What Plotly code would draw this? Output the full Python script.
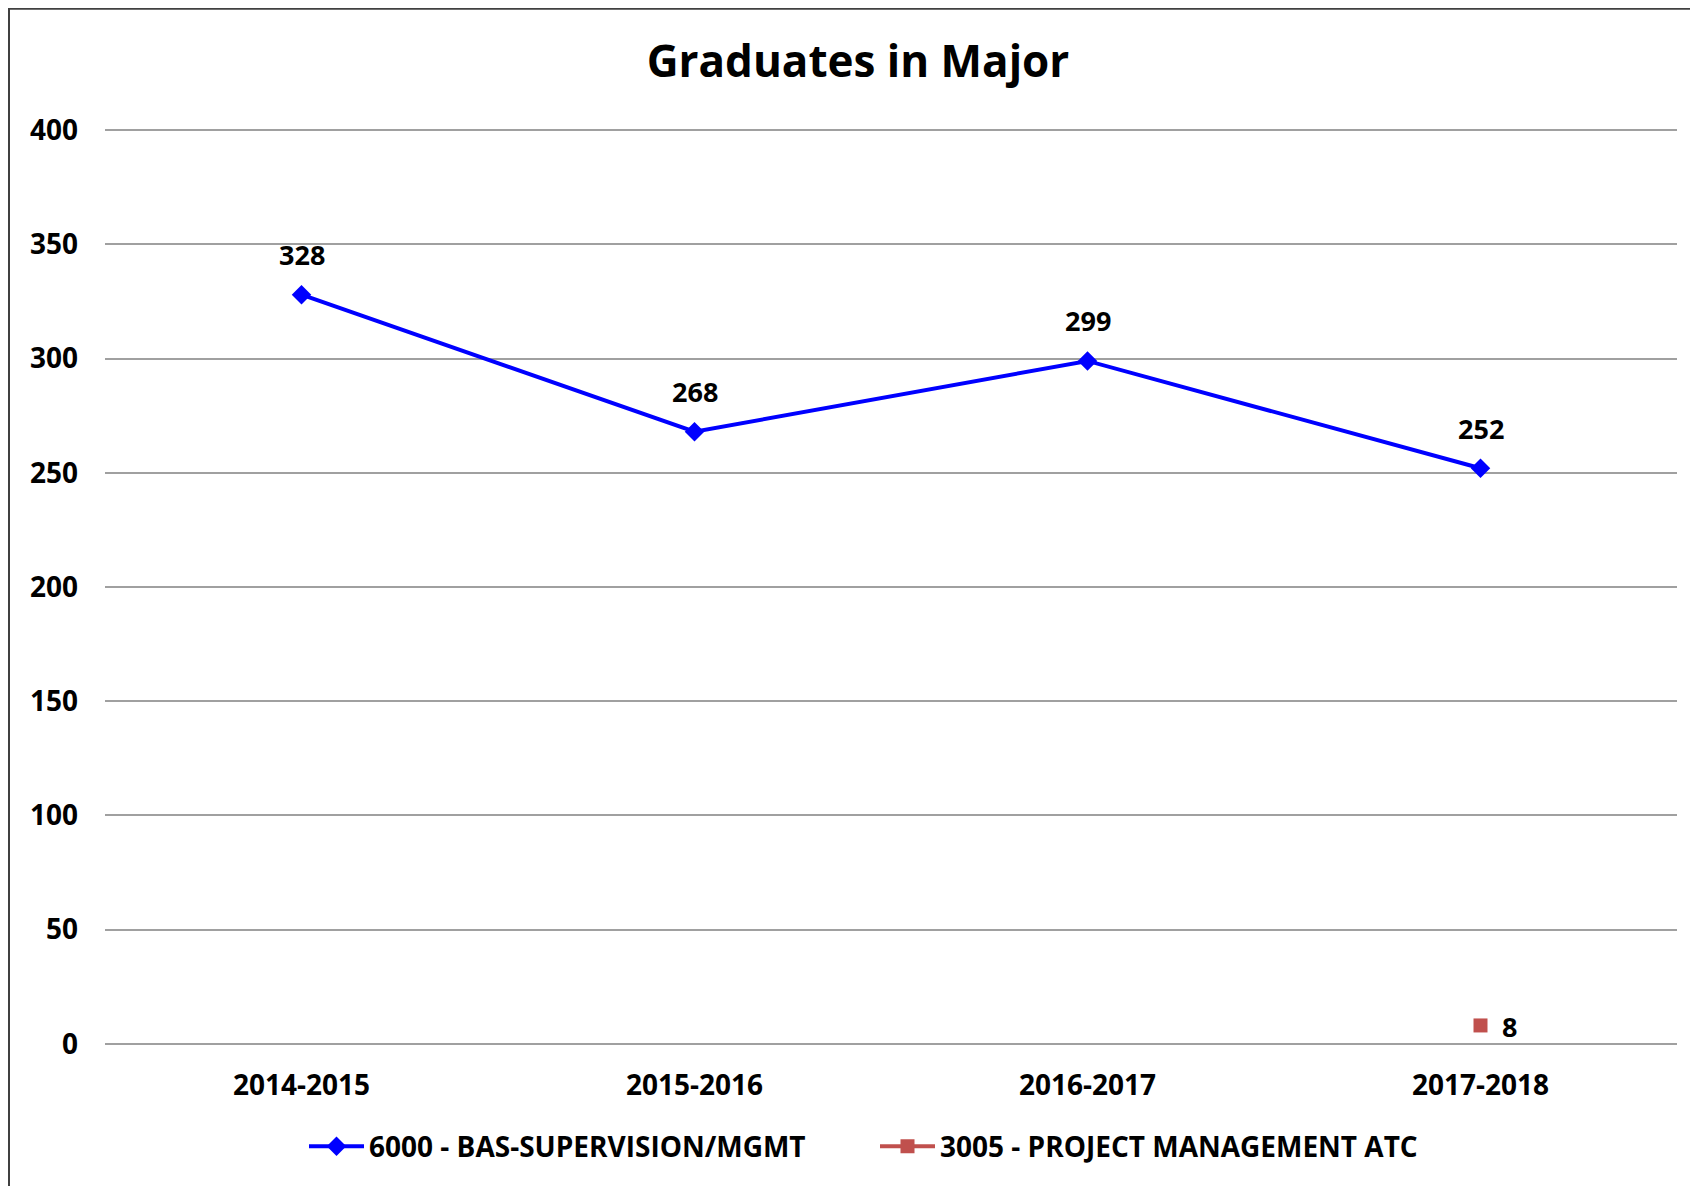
import plotly.graph_objects as go

categories = ["2014-2015", "2015-2016", "2016-2017", "2017-2018"]
bas_values = [328, 268, 299, 252]
pm_categories = ["2017-2018"]
pm_values = [8]
series_names = ["6000 - BAS-SUPERVISION/MGMT", "3005 - PROJECT MANAGEMENT ATC"]
y_ticks = [0, 50, 100, 150, 200, 250, 300, 350, 400]

FONT = "Open Sans"
# page body has an 8px margin, so figure coords = page coords - 8
W, H = 1690, 1178
PX = 914 / 400.0
L = 97
PW = 1572
T = 122 - PX
PH = 402 * PX
R = W - L - PW
B = H - T - PH

fig = go.Figure()
fig.add_trace(go.Scatter(
    x=categories, y=bas_values, name=series_names[0], mode="lines+markers",
    line=dict(color="#0000FF", width=4),
    marker=dict(symbol="diamond", size=15, color="#0000FF"),
))
fig.add_trace(go.Scatter(
    x=pm_categories, y=pm_values, name=series_names[1], mode="lines+markers",
    line=dict(color="#C0504D", width=4),
    marker=dict(symbol="square", size=14, color="#C0504D"),
))

for c, v in zip(categories, bas_values):
    fig.add_annotation(x=c, y=v, text=str(v), showarrow=False, yshift=40,
                       font=dict(family=FONT, size=27, color="black", weight="bold"))
for c, v in zip(pm_categories, pm_values):
    fig.add_annotation(x=c, y=v, text=str(v), showarrow=False, xshift=29, yshift=-1,
                       font=dict(family=FONT, size=27, color="black", weight="bold"))

# outer chart border
fig.add_shape(type="rect", xref="paper", yref="paper",
              x0=(1 - L) / PW, x1=(W + 20 - L) / PW,
              y0=-(B + 20) / PH, y1=1 + (T - 0.5) / PH,
              line=dict(color="#404040", width=2), fillcolor="rgba(0,0,0,0)", layer="above")

fig.update_layout(
    width=W, height=H, autosize=False,
    margin=dict(l=L, r=R, t=T, b=B, pad=0),
    paper_bgcolor="white", plot_bgcolor="white",
    title=dict(text="Graduates in Major", x=850 / W, xanchor="center",
               y=1 - 54 / H, yanchor="middle",
               font=dict(family=FONT, size=44, color="black", weight="bold")),
    xaxis=dict(type="category", categoryorder="array", categoryarray=categories,
               range=[-0.5, 3.5], showgrid=False, showline=False, zeroline=False,
               ticks="", ticklabelstandoff=20,
               tickfont=dict(family=FONT, size=28, color="black", weight="bold")),
    yaxis=dict(range=[-1, 401], tickvals=y_ticks, showgrid=True, gridcolor="#A0A0A0",
               gridwidth=1.5, zeroline=False, showline=False, ticks="",
               ticklabelstandoff=26,
               tickfont=dict(family=FONT, size=28, color="black", weight="bold")),
    legend=dict(orientation="h", x=(296 - L) / PW, xanchor="left",
                y=-(1139 - T - PH) / PH, yanchor="middle",
                font=dict(family=FONT, size=28, color="black", weight="bold"),
                itemwidth=55, bgcolor="rgba(0,0,0,0)",
                entrywidthmode="pixels", entrywidth=501),
    showlegend=True,
)

fig.write_html("out.html")
